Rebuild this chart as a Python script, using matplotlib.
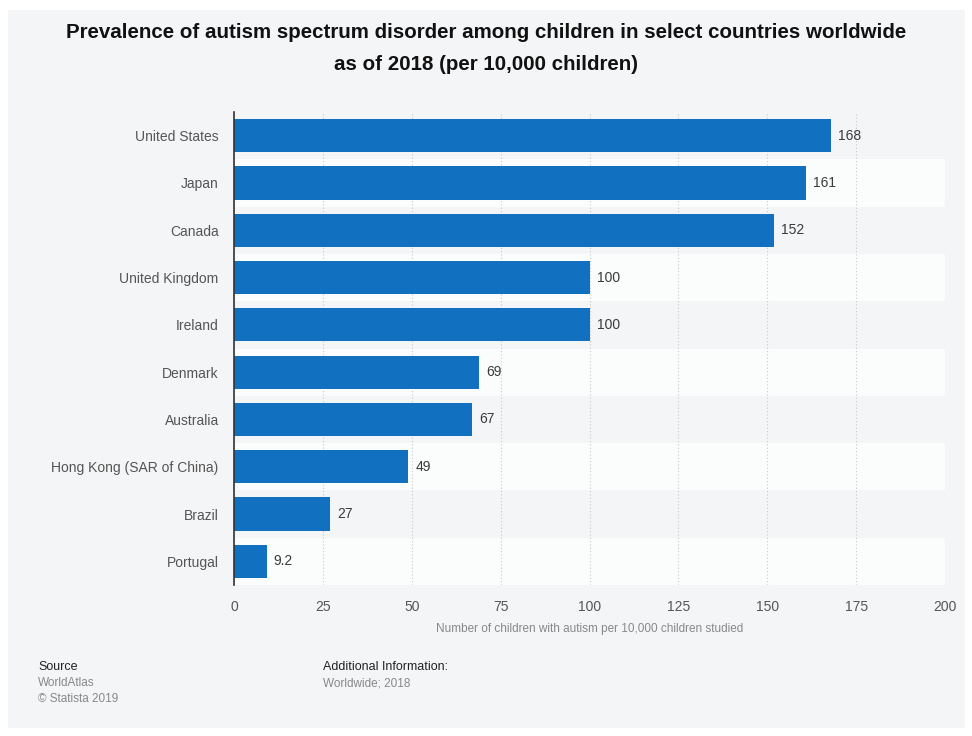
import matplotlib.pyplot as plt
from matplotlib.patches import Rectangle

plt.rcParams['font.family'] = ['Liberation Sans', 'DejaVu Sans']

countries = ['United States', 'Japan', 'Canada', 'United Kingdom', 'Ireland',
             'Denmark', 'Australia', 'Hong Kong (SAR of China)', 'Brazil', 'Portugal']
values = [168, 161, 152, 100, 100, 69, 67, 49, 27, 9.2]
value_labels = ['168', '161', '152', '100', '100', '69', '67', '49', '27', '9.2']
xticks = [0, 25, 50, 75, 100, 125, 150, 175, 200]

panel = '#f4f5f6'
bar_color = '#1170c0'

fig = plt.figure(figsize=(9.72, 7.36), dpi=100)
fig.patch.set_facecolor('white')
# light grey panel behind everything
fig.patches.append(Rectangle((8 / 972, 8 / 736), 957 / 972, 718 / 736,
                             transform=fig.transFigure, facecolor=panel,
                             edgecolor='none', zorder=-10))

ax = fig.add_axes([234 / 972, 1 - 585 / 736, 711 / 972, 473 / 736])
ax.set_facecolor('none')

n = len(countries)
ypos = list(range(n))
for i in ypos:
    ax.axhspan(i - 0.5, i + 0.5, color=panel if i % 2 == 0 else '#fbfcfc', zorder=0, lw=0)

ax.barh(ypos, values, height=0.7, color=bar_color, zorder=3)
for y, v, lab in zip(ypos, values, value_labels):
    ax.text(v + 2, y, lab, va='center', ha='left', fontsize=10, color='#3a3a3a', zorder=4)

ax.set_ylim(n - 0.5, -0.5)
ax.set_xlim(0, 200)
ax.set_yticks(ypos)
ax.set_yticklabels(countries, fontsize=10, color='#555555')
ax.set_xticks(xticks)
ax.set_xticklabels([str(t) for t in xticks], fontsize=10, color='#555555')
ax.tick_params(axis='both', length=0)
ax.tick_params(axis='y', pad=11)
ax.tick_params(axis='x', pad=10.5)
ax.grid(axis='x', linestyle=(0, (1, 2)), color='#c8c8c8', lw=0.8, zorder=1)
for s in ['top', 'right', 'bottom']:
    ax.spines[s].set_visible(False)
ax.spines['left'].set_color('#333333')
ax.spines['left'].set_linewidth(1.2)
ax.spines['left'].set_zorder(5)
ax.set_xlabel('Number of children with autism per 10,000 children studied',
              fontsize=8.5, color='#888888', labelpad=7)

fig.text(0.5, 1 - 32 / 736, 'Prevalence of autism spectrum disorder among children in select countries worldwide',
         ha='center', va='center', fontsize=14.8, fontweight='bold', color='#111111')
fig.text(0.5, 1 - 64 / 736, 'as of 2018 (per 10,000 children)',
         ha='center', va='center', fontsize=14.8, fontweight='bold', color='#111111')

fig.text(38 / 972, 1 - 667 / 736, 'Source', fontsize=9, color='#222222', va='center')
fig.text(38 / 972, 1 - 683 / 736, 'WorldAtlas', fontsize=8.5, color='#888888', va='center')
fig.text(38 / 972, 1 - 699 / 736, '\u00a9 Statista 2019', fontsize=8.5, color='#888888', va='center')
fig.text(323 / 972, 1 - 667 / 736, 'Additional Information:', fontsize=9, color='#222222', va='center')
fig.text(323 / 972, 1 - 683 / 736, 'Worldwide; 2018', fontsize=8.5, color='#888888', va='center')

fig.savefig('out.png', dpi=100, facecolor=fig.get_facecolor())
